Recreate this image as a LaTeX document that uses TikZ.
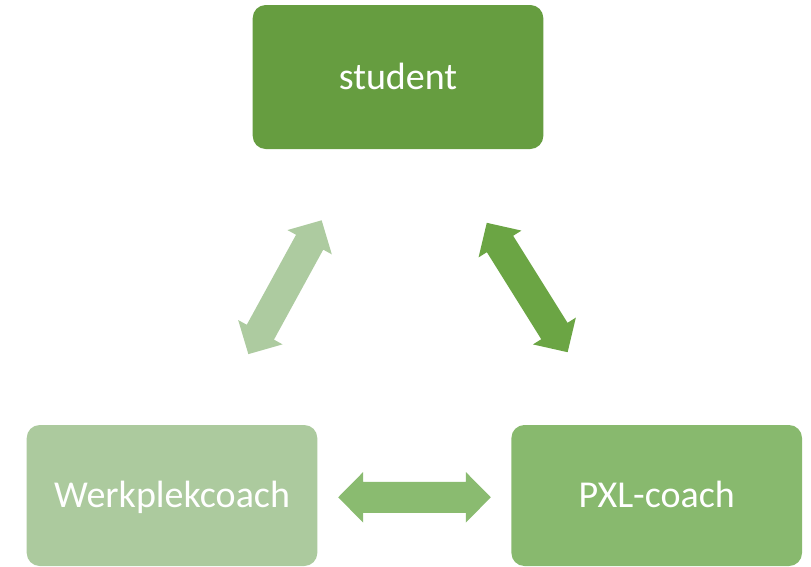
\documentclass[tikz,border=0pt]{standalone}
\usepackage{fontspec}
\setmainfont{Carlito}
\definecolor{cStudent}{RGB}{102,157,64}
\definecolor{cArrowR}{RGB}{107,165,68}
\definecolor{cPXL}{RGB}{136,185,110}
\definecolor{cArrowH}{RGB}{138,187,112}
\definecolor{cWerk}{RGB}{172,202,158}
\definecolor{cArrowL}{RGB}{173,203,160}
\tikzset{
  box/.style={rectangle, rounded corners=13pt, inner sep=0pt, text=white,
    text height=30pt, text depth=5.4pt,
    font=\fontsize{38}{44}\selectfont},
  pics/dblarrow/.style={code={
    \fill (-76.3,0) -- (-51.3,25.3) -- (-51.3,15.5) -- (51.3,15.5) -- (51.3,25.3)
      -- (76.3,0) -- (51.3,-25.3) -- (51.3,-15.5) -- (-51.3,-15.5) -- (-51.3,-25.3) -- cycle;
  }}
}
\begin{document}
\begin{tikzpicture}[x=1pt,y=-1pt]
\useasboundingbox (0,0) rectangle (811,566);
\node[box, fill=cStudent, minimum width=290.6pt, minimum height=144pt] (student) at (398,77) {student};
\node[box, fill=cWerk, minimum width=290.6pt, minimum height=141pt] (werk) at (172,495.5) {Werkplekcoach};
\node[box, fill=cPXL, minimum width=290.6pt, minimum height=141pt] (pxl) at (656.7,495.5) {PXL-coach};
\pic[fill=cArrowH] at (414.5,497.3) {dblarrow};
\pic[fill=cArrowL, rotate=61.3] at (285,287.2) {dblarrow};
\pic[fill=cArrowR, rotate=-58] at (527.2,287.5) {dblarrow};
\end{tikzpicture}
\end{document}
